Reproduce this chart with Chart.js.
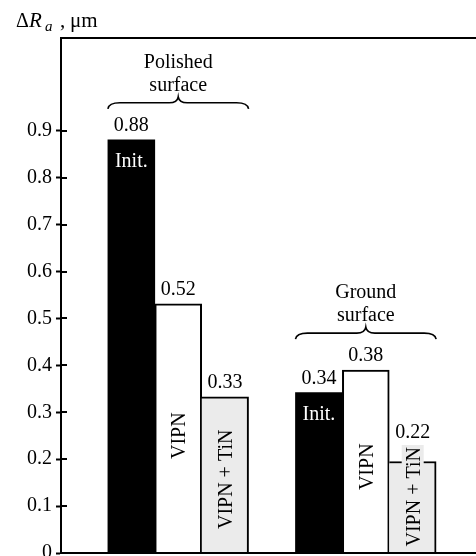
<!DOCTYPE html>
<html>
<head>
<meta charset="utf-8">
<script src="https://cdn.jsdelivr.net/npm/chart.js@4"></script>
<style>
  html, body { margin: 0; padding: 0; background: #fff; }
  #wrap { width: 476px; height: 556px; position: relative; }
</style>
</head>
<body>
<div id="wrap"><canvas id="roughness"></canvas></div>
<script>
const treatments = ['Init.', 'VIPN', 'VIPN + TiN'];
const surfaceTitles = [['Polished', 'surface'], ['Ground', 'surface']];

// bar heights as drawn, um
const polishedHeights = [0.881, 0.531, 0.333];
const groundHeights = [0.342, 0.39, 0.195];

// numbers printed above the bars
const polishedLabels = ['0.88', '0.52', '0.33'];
const groundLabels = ['0.34', '0.38', '0.22'];

const yTicks = [0, 0.1, 0.2, 0.3, 0.4, 0.5, 0.6, 0.7, 0.8, 0.9];

const FONT = '"Liberation Serif", "Times New Roman", serif';
const fills = ['#000000', '#ffffff', '#ebebeb'];
const borders = [
    0,
    {top: 2, left: 2, right: 2, bottom: 0},
    {top: 2, left: 0, right: 2, bottom: 0}
];

const heights = [polishedHeights, groundHeights];
const valueLabels = [polishedLabels, groundLabels];

// one slot per bar, an empty slot between the two surfaces
const points = [];
const kinds = [];
const texts = [];
heights.forEach((series, g) => {
    series.forEach((v, k) => {
        points.push({x: g * 4 + k + 1, y: v});
        kinds.push(k);
        texts.push(valueLabels[g][k]);
    });
});

function brace(ctx, x1, x2, yLine) {
    const mid = (x1 + x2) / 2;
    ctx.beginPath();
    ctx.moveTo(x1, yLine + 6);
    ctx.quadraticCurveTo(x1 + 1, yLine, x1 + 12, yLine);
    ctx.lineTo(mid - 9, yLine);
    ctx.quadraticCurveTo(mid - 1, yLine, mid, yLine - 6);
    ctx.quadraticCurveTo(mid + 1, yLine, mid + 9, yLine);
    ctx.lineTo(x2 - 12, yLine);
    ctx.quadraticCurveTo(x2 - 1, yLine, x2, yLine + 6);
    ctx.stroke();
}

const decorations = {
    id: 'decorations',
    afterDraw(chart) {
        const ctx = chart.ctx;
        const area = chart.chartArea;
        const yScale = chart.scales.y;
        const bars = chart.getDatasetMeta(0).data;

        ctx.save();
        ctx.strokeStyle = '#000';
        ctx.fillStyle = '#000';
        ctx.lineWidth = 2;

        // top frame line, bottom axis, inner half of the ticks
        ctx.beginPath();
        ctx.moveTo(area.left, area.top);
        ctx.lineTo(area.right, area.top);
        ctx.moveTo(area.left, area.bottom);
        ctx.lineTo(area.right, area.bottom);
        yTicks.forEach(v => {
            const py = Math.round(yScale.getPixelForValue(v));
            ctx.moveTo(area.left, py);
            ctx.lineTo(area.left + 6, py);
        });
        ctx.stroke();

        // axis title: delta R_a, um
        const ty = 27;
        ctx.textAlign = 'left';
        ctx.textBaseline = 'alphabetic';
        ctx.font = '20px ' + FONT;
        ctx.fillText('\u0394', 16, ty);
        ctx.font = 'italic 21px ' + FONT;
        ctx.fillText('R', 29, ty);
        ctx.font = 'italic 15px ' + FONT;
        ctx.fillText('a', 45, ty + 4);
        ctx.font = '21px ' + FONT;
        ctx.fillText(',', 60, ty);
        ctx.fillText('\u03bcm', 70, ty);

        // labels inside and above the bars
        const tops = [];
        bars.forEach((el, i) => {
            const k = kinds[i];
            const name = treatments[k];
            let top = el.y;
            ctx.font = '20px ' + FONT;
            if (k === 0) {
                ctx.fillStyle = '#fff';
                ctx.textAlign = 'center';
                ctx.fillText(name, el.x, el.y + 27);
            } else {
                const w = ctx.measureText(name).width;
                const h = el.base - el.y;
                const cy = el.base - Math.max(0.47 * h, w / 2 + 6);
                ctx.save();
                ctx.translate(el.x + 7, cy);
                ctx.rotate(-Math.PI / 2);
                ctx.fillStyle = fills[k];
                ctx.fillRect(-w / 2 - 2, -18, w + 4, 22);
                ctx.fillStyle = '#000';
                ctx.textAlign = 'center';
                ctx.fillText(name, 0, 0);
                ctx.restore();
                top = Math.min(top, cy - w / 2);
            }
            ctx.fillStyle = '#000';
            ctx.textAlign = 'center';
            ctx.fillText(texts[i], el.x, top - 9);
            tops.push(el.y);
        });

        // braces with surface names
        ctx.lineWidth = 1.6;
        surfaceTitles.forEach((lines, g) => {
            const group = bars.slice(g * 3, g * 3 + 3);
            const x1 = group[0].x - group[0].width / 2;
            const x2 = group[2].x + group[2].width / 2;
            const yLine = Math.min(...tops.slice(g * 3, g * 3 + 3)) - 37;
            brace(ctx, x1, x2, yLine);
            ctx.font = '20px ' + FONT;
            ctx.textAlign = 'center';
            ctx.fillText(lines[0], (x1 + x2) / 2, yLine - 35);
            ctx.fillText(lines[1], (x1 + x2) / 2, yLine - 12);
        });

        ctx.restore();
    }
};

new Chart(document.getElementById('roughness'), {
    type: 'bar',
    data: {
        datasets: [{
            data: points,
            backgroundColor: ctx => fills[kinds[ctx.dataIndex]],
            borderColor: '#000',
            borderWidth: ctx => borders[kinds[ctx.dataIndex]],
            borderSkipped: false,
            barPercentage: 1,
            categoryPercentage: 1
        }]
    },
    options: {
        responsive: true,
        maintainAspectRatio: false,
        animation: false,
        layout: {padding: {top: 38, right: 0, bottom: 3, left: 0}},
        plugins: {legend: {display: false}, tooltip: {enabled: false}},
        scales: {
            x: {type: 'linear', min: -0.5, max: 8.35, offset: false, display: false},
            y: {
                type: 'linear',
                min: 0,
                max: 1.098,
                afterBuildTicks: s => { s.ticks = yTicks.map(v => ({value: v})); },
                afterFit: s => { s.width = 61; s.paddingTop = 0; s.paddingBottom = 0; },
                ticks: {
                    color: '#000',
                    font: {family: FONT, size: 20},
                    padding: 4,
                    callback: v => String(v)
                },
                grid: {drawOnChartArea: false, drawTicks: true, tickLength: 5, tickWidth: 2, tickColor: '#000'},
                border: {display: true, color: '#000', width: 2}
            }
        }
    },
    plugins: [decorations]
});
</script>
</body>
</html>
